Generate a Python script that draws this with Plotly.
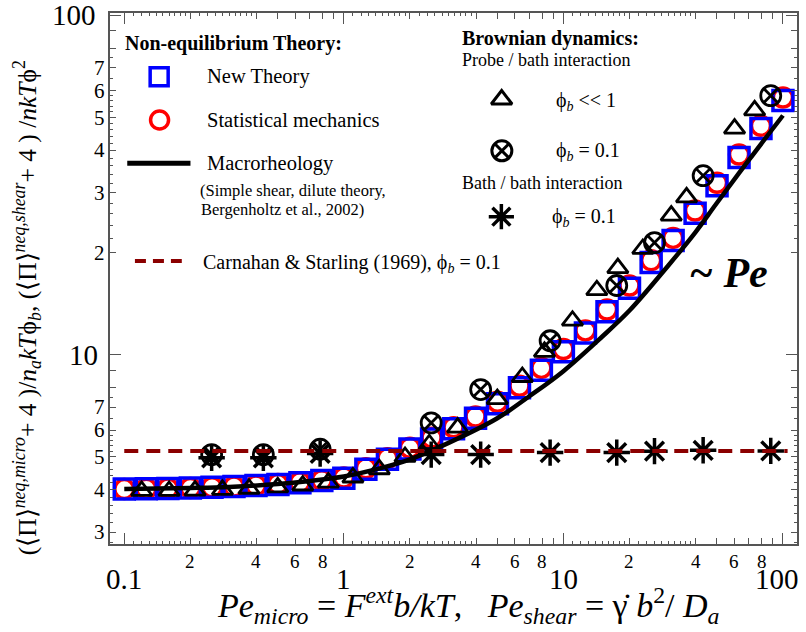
import numpy as np
import plotly.graph_objects as go

# ---------------- data ----------------
pe_theory = [0.1, 0.126, 0.158, 0.2, 0.251, 0.316, 0.398, 0.501, 0.631, 0.794,
             1.0, 1.26, 1.58, 2.0, 2.51, 3.16, 3.98, 5.01, 6.31, 7.94,
             10.0, 12.6, 15.8, 20.0, 25.1, 31.6, 39.8, 50.1, 63.1, 79.4, 100.0]
new_theory = [4.02, 4.03, 4.04, 4.05, 4.07, 4.09, 4.12, 4.15, 4.2, 4.26,
              4.33, 4.6, 4.92, 5.28, 5.65, 6.05, 6.5, 7.17, 8.0, 9.0,
              10.2, 11.6, 13.4, 15.7, 18.7, 21.7, 26.1, 31.5, 38.1, 46.4, 56.1]
stat_mech = [4.02, 4.03, 4.04, 4.05, 4.07, 4.09, 4.12, 4.16, 4.21, 4.27,
             4.35, 4.63, 4.96, 5.32, 5.7, 6.12, 6.58, 7.27, 8.1, 9.15,
             10.4, 11.8, 13.6, 16.0, 19.0, 22.1, 26.6, 32.1, 38.9, 47.3, 57.3]

pe_macro = [0.1, 0.2, 0.3, 0.5, 0.7, 1, 1.5, 2, 3, 5, 7, 10, 15, 20, 30, 40, 50, 70, 100]
macro = [4.02, 4.05, 4.08, 4.16, 4.25, 4.38, 4.65, 4.92, 5.5, 6.5, 7.55, 8.95,
         11.3, 13.5, 18.3, 23.0, 28.0, 37.5, 50.7]

pe_bd_dilute = [0.12, 0.16, 0.21, 0.28, 0.37, 0.5, 0.65, 0.85, 1.1, 1.45, 1.9, 2.45,
                3.3, 5.0, 6.5, 8.2, 11.0, 14.2, 17.7, 23.0, 31.0, 36.4, 60.2, 74.3]
bd_dilute = [3.97, 3.97, 3.98, 4.0, 4.03, 4.07, 4.12, 4.2, 4.35, 4.6, 5.0, 5.45,
             6.1, 7.4, 8.6, 10.2, 12.6, 15.5, 18.0, 20.5, 25.7, 29.1, 46.4, 52.5]

pe_bd_01 = [0.25, 0.43, 0.78, 2.5, 4.2, 8.7, 17.5, 26.0, 43.3, 88.0]
bd_probe_01 = [5.08, 5.08, 5.27, 6.3, 7.9, 11.0, 16.0, 21.4, 33.7, 58.0]
bd_bath_01 = [4.97, 4.97, 5.12, 5.08, 5.08, 5.15, 5.15, 5.2, 5.23, 5.21]

pe_cs = [0.1, 105.0]
cs_value = [5.21, 5.21]

x_major = [0.1, 1, 10, 100]
x_major_text = ["0.1", "1", "10", "100"]
x_minor_lab = [0.2, 0.4, 0.6, 0.8, 2, 4, 6, 8, 20, 40, 60, 80]
x_minor_text = ["2", "4", "6", "8"] * 3
y_major = [10, 100]
y_major_text = ["10", "100"]
y_minor_lab = [3, 4, 5, 6, 7, 20, 30, 40, 50, 60, 70]
y_minor_text = ["3", "4", "5", "6", "7", "2", "3", "4", "5", "6", "7"]

# ---------------- layout helpers ----------------
W, H = 806, 632
L, R, T, B = 110, 799, 13, 544
FONT = "Liberation Serif, Times New Roman, serif"
AX = "#555555"


def px(x):
    return (x - L) / (R - L)


def py(y):
    return (B - y) / (B - T)


def fnt(s):
    return dict(family=FONT, size=s, color="black")


XR = [-1.065, 2.064]
YR = [0.4425, 2.007]

decs = [0.1, 1, 10]
x_med = [m * d for d in decs for m in (2, 4, 5, 6, 7, 8, 9)]
x_small = [round(m * d, 4) for d in decs for m in
           (1.1, 1.2, 1.3, 1.4, 1.5, 1.6, 1.7, 1.8, 1.9, 2.2, 2.4, 2.6, 2.8, 3.0, 3.2, 3.4, 3.6, 3.8)]
y_med = [m * d for d in (1, 10) for m in (2, 3, 4, 5, 6, 7, 8, 9)]
y_small = [round(m * d, 4) for d in (1, 10) for m in
           (2.2, 2.4, 2.6, 2.8, 3.2, 3.4, 3.6, 3.8, 4.2, 4.4, 4.6, 4.8, 5.2, 5.4, 5.6, 5.8, 6.5, 7.5)]

fig = go.Figure()

# ---------------- data traces ----------------
fig.add_trace(go.Scatter(x=pe_theory, y=stat_mech, mode="markers",
                         marker=dict(symbol="circle-open", size=19, color="#ff0000",
                                     line=dict(width=3.5))))
fig.add_trace(go.Scatter(x=pe_theory, y=new_theory, mode="markers",
                         marker=dict(symbol="square-open", size=20, color="#0000ff",
                                     line=dict(width=3.5))))
fig.add_trace(go.Scatter(x=pe_macro, y=macro, mode="lines",
                         line=dict(color="black", width=4.5, shape="spline")))
fig.add_trace(go.Scatter(x=pe_bd_dilute, y=bd_dilute, mode="markers",
                         marker=dict(symbol="triangle-up-open", size=18, color="black",
                                     line=dict(width=2.8))))
fig.add_trace(go.Scatter(x=pe_bd_01, y=bd_probe_01, mode="markers",
                         marker=dict(symbol="circle-x-open", size=20, color="black",
                                     line=dict(width=2.8))))
fig.add_trace(go.Scatter(x=pe_bd_01, y=bd_bath_01, mode="markers",
                         marker=dict(symbol="asterisk-open", size=22, color="black",
                                     line=dict(width=3.5))))
fig.add_trace(go.Scatter(x=pe_cs, y=cs_value, mode="lines",
                         line=dict(color="#8b0000", width=4, dash="14px,8px")))

# invisible trace so the small-tick overlay axes render
fig.add_trace(go.Scatter(x=[pe_theory[0]], y=[new_theory[0]], xaxis="x2", yaxis="y2",
                         mode="markers", marker=dict(opacity=0), hoverinfo="skip"))

# ---------------- legend symbols (overlay pixel axes) ----------------
leg_sym = [("square-open", "#0000ff", 18, 3.5, 159.3, 76.7),
           ("circle-open", "#ff0000", 18, 3.5, 159.7, 120.0),
           ("triangle-up-open", "black", 18, 3.0, 502.8, 99.5),
           ("circle-x-open", "black", 20, 3.0, 503.0, 150.8),
           ("asterisk-open", "black", 21, 3.5, 502.5, 216.7)]
for sym, col, sz, lw, lx, ly in leg_sym:
    fig.add_trace(go.Scatter(x=[lx], y=[ly], xaxis="x3", yaxis="y3", mode="markers",
                             marker=dict(symbol=sym, size=sz, color=col, line=dict(width=lw)),
                             hoverinfo="skip"))
fig.add_trace(go.Scatter(x=[127.3, 190.7], y=[163.3, 163.3], xaxis="x3", yaxis="y3",
                         mode="lines", line=dict(color="black", width=5), hoverinfo="skip"))
fig.add_trace(go.Scatter(x=[135, 182], y=[261, 261], xaxis="x3", yaxis="y3",
                         mode="lines", line=dict(color="#8b0000", width=4, dash="11px,7px"),
                         hoverinfo="skip"))

# ---------------- axes ----------------
common = dict(type="log", showgrid=False, zeroline=False, showticklabels=False)
fig.update_layout(
    width=W, height=H, showlegend=False,
    margin=dict(l=L, r=W - R, t=T, b=H - B),
    paper_bgcolor="white", plot_bgcolor="white",
    font=dict(family=FONT, color="black"),
    xaxis=dict(**common, range=XR, showline=True, linecolor=AX, linewidth=1.5,
               mirror="ticks", ticks="inside", ticklen=11, tickwidth=1.3, tickcolor=AX,
               tickmode="array", tickvals=x_major,
               minor=dict(tickmode="array", tickvals=x_med, ticks="inside", ticklen=6,
                          tickwidth=1.2, tickcolor=AX, showgrid=False)),
    yaxis=dict(**common, range=YR, showline=True, linecolor=AX, linewidth=1.5,
               mirror="ticks", ticks="inside", ticklen=11, tickwidth=1.3, tickcolor=AX,
               tickmode="array", tickvals=y_major,
               minor=dict(tickmode="array", tickvals=y_med, ticks="inside", ticklen=6,
                          tickwidth=1.2, tickcolor=AX, showgrid=False)),
    xaxis2=dict(**common, range=XR, overlaying="x", anchor="y2", side="bottom",
                mirror="ticks", ticks="inside", ticklen=3, tickwidth=1, tickcolor=AX,
                tickmode="array", tickvals=x_small, showline=False),
    yaxis2=dict(**common, range=YR, overlaying="y", anchor="x2", side="left",
                mirror="ticks", ticks="inside", ticklen=3, tickwidth=1, tickcolor=AX,
                tickmode="array", tickvals=y_small, showline=False),
    xaxis3=dict(range=[L, R], overlaying="x", anchor="y3", visible=False),
    yaxis3=dict(range=[B, T], overlaying="y", anchor="x3", visible=False),
)

ann = []
# tick labels
for v, t in zip(x_major, x_major_text):
    ann.append(dict(x=np.log10(v), y=py(579), xref="x", yref="paper", text=t,
                    showarrow=False, font=fnt(29), xanchor="center", yanchor="middle",
                    xshift=-6 if t == "100" else 0))
for v, t in zip(x_minor_lab, x_minor_text):
    ann.append(dict(x=np.log10(v), y=py(561), xref="x", yref="paper", text=t,
                    showarrow=False, font=fnt(19), xanchor="center", yanchor="middle"))
for v, t, xr in zip(y_major, y_major_text, (100, 98)):
    ann.append(dict(x=px(xr), y=np.log10(v), xref="paper", yref="y", text=t,
                    showarrow=False, font=fnt(29), xanchor="right", yanchor="middle"))
for v, t in zip(y_minor_lab, y_minor_text):
    ann.append(dict(x=px(107), y=np.log10(v), xref="paper", yref="y", text=t,
                    showarrow=False, font=fnt(21), xanchor="right", yanchor="middle"))

# axis titles
ann.append(dict(x=px(469), y=py(605), xref="paper", yref="paper", showarrow=False,
                xanchor="center", yanchor="middle", font=fnt(34),
                text="<i>Pe</i><sub><i>micro</i></sub> = <i>F</i><sup><i>ext</i></sup><i>b/kT</i>,"
                     "   <i>Pe</i><sub><i>shear</i></sub> = γ̇ <i>b</i><sup>2</sup>/ <i>D</i><sub><i>a</i></sub>"))
ann.append(dict(x=px(27), y=py(308), xref="paper", yref="paper", showarrow=False,
                textangle=-90, xanchor="center", yanchor="middle", font=fnt(25.5),
                text="(⟨Π⟩<sup><i>neq,micro</i></sup>+ 4 )/<i>n</i><sub><i>a</i></sub><i>kT</i>ϕ<sub><i>b</i></sub>,"
                     " (⟨Π⟩<sup><i>neq,shear</i></sup>+ 4 ) /<i>nkT</i>ϕ<sup>2</sup>"))

# legend texts
leg_txt = [("<b>Non-equilibrium Theory:</b>", 122.7, 43.3, 20),
           ("New Theory", 205, 76.7, 20.5),
           ("Statistical mechanics", 205.7, 120, 20.5),
           ("Macrorheology", 205.7, 163.3, 20.5),
           ("(Simple shear, dilute theory,", 198.3, 191, 16.5),
           ("Bergenholtz et al., 2002)", 199.3, 209.3, 16.5),
           ("Carnahan &amp; Starling (1969), ϕ<sub><i>b</i></sub> = 0.1", 201.7, 263, 20),
           ("<b>Brownian dynamics:</b>", 460.7, 38.3, 20),
           ("Probe / bath interaction", 460.7, 60, 18),
           ("ϕ<sub><i>b</i></sub> &lt;&lt; 1", 555, 102, 20),
           ("ϕ<sub><i>b</i></sub> = 0.1", 555, 152, 20),
           ("Bath / bath interaction", 460.7, 183.3, 18),
           ("ϕ<sub><i>b</i></sub> = 0.1", 551, 217, 20),
           ("<b><i>~ Pe</i></b>", 689, 273.3, 42)]
for t, lx, ly, fs in leg_txt:
    ann.append(dict(x=px(lx), y=py(ly), xref="paper", yref="paper", text=t,
                    showarrow=False, xanchor="left", yanchor="middle", font=fnt(fs)))

fig.update_layout(annotations=ann)
fig.write_html("out.html")
